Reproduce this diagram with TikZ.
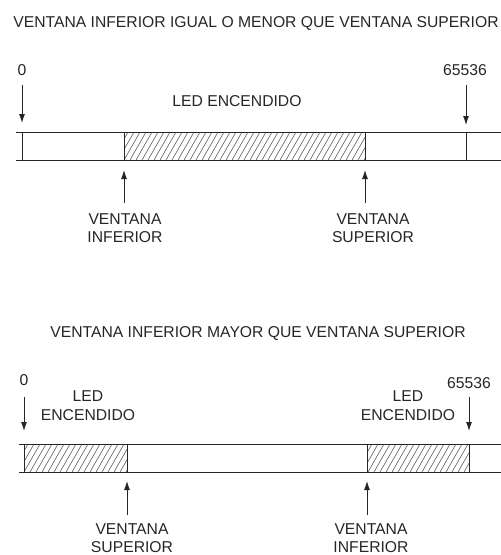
\documentclass[tikz,border=0pt]{standalone}
\usepackage{fontspec}
\setmainfont{Liberation Sans}
\usetikzlibrary{arrows.meta}
\begin{document}
\begin{tikzpicture}[x=1pt,y=-1pt,
  lbl/.style={inner sep=0pt, text=black!85, font=\fontsize{15.7}{18}\selectfont, align=center},
  barline/.style={line width=0.9pt, draw=black!85},
  arr/.style={line width=0.9pt, draw=black!85, -{Latex[length=9pt,width=6pt]}},
  hatchline/.style={line width=0.5pt, draw=black!75}]
\useasboundingbox (0,0) rectangle (501,555);

% ---------- top diagram ----------
\node[lbl, anchor=base] (t1) at (256,27) {VENTANA INFERIOR IGUAL O MENOR QUE VENTANA SUPERIOR};
\node[lbl, anchor=base] (z1) at (22,75) {0};
\node[lbl, anchor=base] (m1) at (465,75) {65536};
\node[lbl, anchor=base] (led1) at (237,106) {LED ENCENDIDO};
\node[lbl, anchor=north] (vi1) at (125,213) {VENTANA\\INFERIOR};
\node[lbl, anchor=north] (vs1) at (373,213) {VENTANA\\SUPERIOR};

% hatch
\begin{scope}
\clip (124,132) rectangle (365,160);
\foreach \x in {100,106,...,370} \draw[hatchline] (\x,160) -- (\x+16,132);
\end{scope}
% bar
\draw[barline] (16,132) -- (501,132);
\draw[barline] (16,160) -- (501,160);
\foreach \x in {22,124,365,466} \draw[barline] (\x,132) -- (\x,160);

\coordinate (a1s) at (22,85);  \coordinate (a1e) at (22,123);
\coordinate (b1s) at (466,85); \coordinate (b1e) at (466,125);
\coordinate (c1s) at (124,203); \coordinate (c1e) at (124,170);
\coordinate (d1s) at (365,203); \coordinate (d1e) at (365,170);
\draw[arr] (a1s) -- (a1e);
\draw[arr] (b1s) -- (b1e);
\draw[arr] (c1s) -- (c1e);
\draw[arr] (d1s) -- (d1e);

% ---------- bottom diagram ----------
\node[lbl, anchor=base] (t2) at (258,337) {VENTANA INFERIOR MAYOR QUE VENTANA SUPERIOR};
\node[lbl, anchor=base] (z2) at (24,385) {0};
\node[lbl, anchor=base] (m2) at (469,388) {65536};
\node[lbl, anchor=north] (led2) at (88,390) {LED\\[1pt]ENCENDIDO};
\node[lbl, anchor=north] (led3) at (408,390) {LED\\[1pt]ENCENDIDO};
\node[lbl, anchor=north] (vs2) at (132,523) {VENTANA\\SUPERIOR};
\node[lbl, anchor=north] (vi2) at (371,523) {VENTANA\\INFERIOR};

\begin{scope}
\clip (24,444) rectangle (127,472);
\foreach \x in {0,6,...,132} \draw[hatchline] (\x,472) -- (\x+16,444);
\end{scope}
\begin{scope}
\clip (367,444) rectangle (469,472);
\foreach \x in {344,350,...,474} \draw[hatchline] (\x,472) -- (\x+16,444);
\end{scope}
\draw[barline] (19,444) -- (501,444);
\draw[barline] (19,472) -- (501,472);
\foreach \x in {24,127,367,469} \draw[barline] (\x,444) -- (\x,472);

\coordinate (a2s) at (24,397);  \coordinate (a2e) at (24,431);
\coordinate (b2s) at (469,397); \coordinate (b2e) at (469,431);
\coordinate (c2s) at (127,515); \coordinate (c2e) at (127,481);
\coordinate (d2s) at (367,515); \coordinate (d2e) at (367,481);
\draw[arr] (a2s) -- (a2e);
\draw[arr] (b2s) -- (b2e);
\draw[arr] (c2s) -- (c2e);
\draw[arr] (d2s) -- (d2e);
\end{tikzpicture}
\end{document}
